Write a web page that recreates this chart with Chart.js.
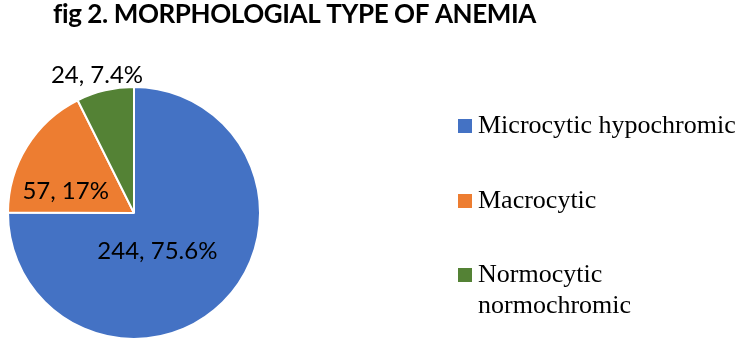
<!DOCTYPE html>
<html>
<head>
<meta charset="utf-8">
<script src="https://cdn.jsdelivr.net/npm/chart.js@4/dist/chart.umd.min.js"></script>
<style>
  html, body { margin: 0; padding: 0; background: #ffffff; }
  canvas { display: block; }
</style>
</head>
<body>
<canvas id="anemiaChart" width="744" height="344"></canvas>
<script>
const categories = ['Microcytic hypochromic', 'Macrocytic', 'Normocytic normochromic'];
const patientCounts = [244, 57, 24];
const percentLabels = ['75.6%', '17%', '7.4%'];

const sliceColors = ['#4472C4', '#ED7D31', '#548235'];

// where each value label sits: angle (deg, canvas convention) and distance as a fraction of the radius
const labelPlacement = [
    { angle: 58, dist: 0.35 },
    { angle: 198, dist: 0.57 },
    { angle: 255, dist: 1.135 },
];

const titleText = 'fig 2. MORPHOLOGIAL TYPE OF ANEMIA';

const overlay = {
    id: 'overlay',
    afterDraw(chart) {
        const ctx = chart.ctx;
        const meta = chart.getDatasetMeta(0);
        ctx.save();

        // title: first letter drawn on its own so Lato doesn't join "fi"
        ctx.fillStyle = '#000000';
        ctx.font = 'bold 26px Lato';
        ctx.letterSpacing = '-0.4px';
        ctx.textAlign = 'left';
        ctx.textBaseline = 'alphabetic';
        const head = titleText.slice(0, 1);
        ctx.fillText(head, 53, 23);
        ctx.fillText(titleText.slice(1), 53 + ctx.measureText(head).width, 23);
        ctx.letterSpacing = '0px';

        // value labels
        ctx.font = '24px Lato';
        ctx.textAlign = 'center';
        meta.data.forEach((arc, i) => {
            const p = labelPlacement[i];
            const a = p.angle * Math.PI / 180;
            const r = arc.outerRadius * p.dist;
            const x = arc.x + Math.cos(a) * r;
            const y = arc.y + Math.sin(a) * r;
            ctx.fillText(patientCounts[i] + ', ' + percentLabels[i], x, y + 8.5);
        });

        // legend
        const boxX = 458, textX = 478, maxW = 744 - textX - 2;
        const rowY = [133, 208, 282];
        const lineH = 31;
        ctx.font = '26px "Liberation Serif"';
        ctx.textAlign = 'left';
        categories.forEach((name, i) => {
            ctx.fillStyle = sliceColors[i];
            ctx.fillRect(boxX, rowY[i] - 14, 14, 14);
            ctx.fillStyle = '#000000';
            const words = name.split(' ');
            const lines = [];
            let line = '';
            words.forEach(w => {
                const test = line ? line + ' ' + w : w;
                if (line && ctx.measureText(test).width > maxW) {
                    lines.push(line);
                    line = w;
                } else {
                    line = test;
                }
            });
            lines.push(line);
            lines.forEach((l, j) => ctx.fillText(l, textX, rowY[i] + j * lineH));
        });

        ctx.restore();
    }
};

new Chart(document.getElementById('anemiaChart'), {
    type: 'pie',
    data: {
        labels: categories,
        datasets: [{
            data: patientCounts,
            backgroundColor: sliceColors,
            borderColor: '#ffffff',
            borderWidth: 2,
        }]
    },
    options: {
        responsive: false,
        animation: false,
        layout: {
            padding: { left: 7, top: 86, right: 483, bottom: 4 }
        },
        plugins: {
            legend: { display: false },
            tooltip: { enabled: false }
        }
    },
    plugins: [overlay]
});
</script>
</body>
</html>
